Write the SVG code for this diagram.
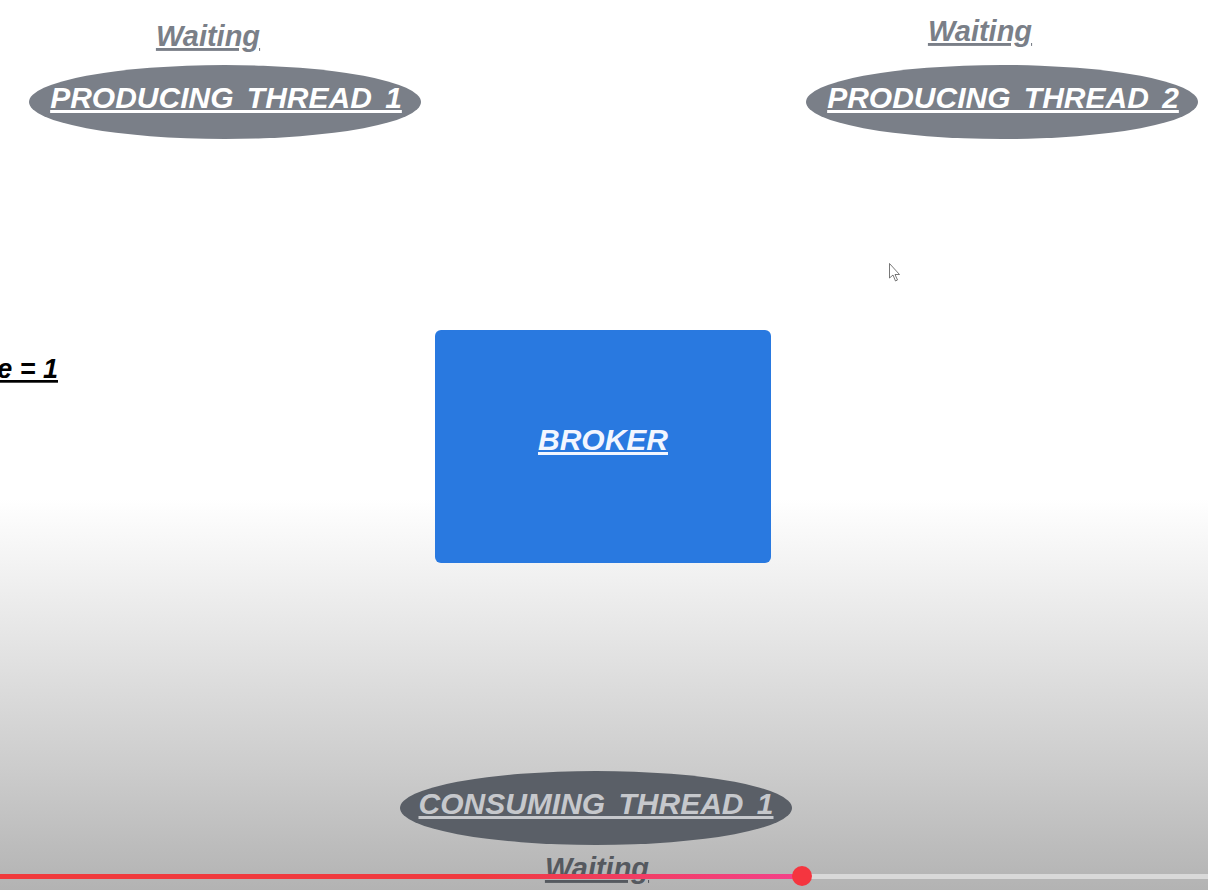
<svg xmlns="http://www.w3.org/2000/svg" width="1208" height="890" viewBox="0 0 1208 890">
<style>
.t{font-family:"Liberation Sans",Arial,sans-serif;font-weight:bold;font-style:italic;text-decoration:underline;text-anchor:middle}
.lbl{font-size:30px;fill:#ffffff;word-spacing:5px}
.wait{font-size:29px;fill:#7a7f88}
.pill{fill:#7a7f88}
</style>
<defs>
<linearGradient id="bg" x1="0" y1="0" x2="0" y2="1">
<stop offset="0" stop-color="#ffffff"/>
<stop offset="0.56" stop-color="#ffffff"/>
<stop offset="0.7" stop-color="#e8e8e8"/>
<stop offset="0.87" stop-color="#cbcbcb"/>
<stop offset="1" stop-color="#b3b3b3"/>
</linearGradient>
<linearGradient id="prog" x1="0" y1="0" x2="1" y2="0">
<stop offset="0" stop-color="#f03a3c"/>
<stop offset="0.6" stop-color="#f03a40"/>
<stop offset="1" stop-color="#f4418a"/>
</linearGradient>
</defs>
<rect width="1208" height="890" fill="url(#bg)"/>
<g id="producing1">
<text class="t wait" x="208" y="46">Waiting</text>
<ellipse class="pill" cx="225" cy="102" rx="196" ry="37"/>
<text class="t lbl" x="226" y="108">PRODUCING THREAD 1</text>
</g>
<g id="producing2">
<text class="t wait" x="980" y="41">Waiting</text>
<ellipse class="pill" cx="1002" cy="102" rx="196" ry="37"/>
<text class="t lbl" x="1003" y="108">PRODUCING THREAD 2</text>
</g>
<g id="sizeLabel">
<text class="t" x="58" y="378" style="text-anchor:end;font-size:27px;fill:#000000">e = 1</text>
</g>
<g id="broker">
<rect x="435" y="330" width="336" height="233" rx="6" fill="#2979e0"/>
<text class="t lbl" x="603" y="450" style="fill:#f2f6ff">BROKER</text>
</g>
<g id="consuming1">
<ellipse cx="596" cy="808" rx="196" ry="37" fill="#5a5f67"/>
<text class="t lbl" x="596" y="814" style="fill:#c6c8cc">CONSUMING THREAD 1</text>
<text class="t wait" x="597" y="878" style="fill:#55595f">Waiting</text>
</g>
<g id="connectors"></g>
<g id="player">
<rect x="802" y="874" width="406" height="5" fill="#d9d9d9"/>
<rect x="0" y="874" width="802" height="5" fill="url(#prog)"/>
<circle cx="802" cy="876" r="10" fill="#f5353f"/>
<path d="M889.5 263.5 L889.5 278 L893 275 L895.5 281 L897.5 280 L895 274.5 L899.5 274.5 Z" fill="#ffffff" stroke="#555555" stroke-width="0.8"/>
</g>
</svg>
